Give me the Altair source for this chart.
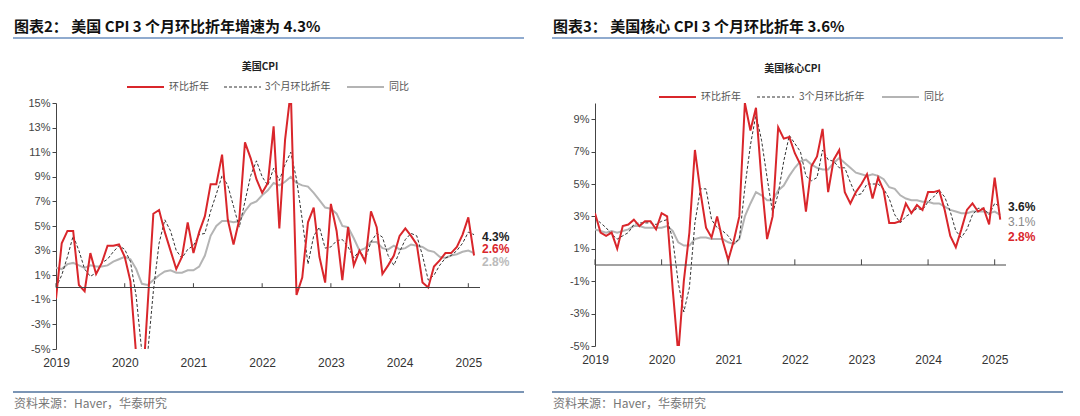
import pandas as pd
import altair as alt

# 2019-01 .. 2025-02, monthly, % annualized
cpi_mom = [-0.9, 3.6, 4.6, 4.6, 0.2, -0.3, 2.8, 1.1, 2.0, 3.4, 3.4, 3.5,
           2.5, 0.5, -5.5, -9.0, -1.5, 6.0, 6.3, 4.5, 3.0, 1.5, 2.5, 5.3,
           2.8, 4.5, 5.8, 8.4, 8.4, 10.8, 5.5, 3.5, 5.5, 11.8, 10.5, 8.8,
           7.7, 8.5, 13.1, 4.8, 12.0, 16.0, -0.6, 0.8, 5.3, 6.5, 2.5, 0.4,
           6.8, 4.6, 0.6, 4.9, 1.8, 3.0, 2.1, 6.2, 4.9, 1.1, 1.8, 2.6,
           4.2, 4.8, 4.2, 3.5, 0.4, 0.0, 1.7, 2.2, 2.8, 2.8, 3.3, 4.3,
           5.7, 2.6]
cpi_3m = [0.0, 1.0, 2.5, 4.2, 3.0, 1.5, 0.9, 1.2, 2.0, 2.3, 2.9, 3.4,
          3.1, 2.1, -0.7, -5.3, -5.4, -0.3, 3.6, 5.5, 4.6, 3.0, 2.4, 3.1,
          3.4, 4.3, 4.4, 6.2, 7.6, 9.1, 8.3, 6.6, 4.9, 7.0, 9.1, 10.3,
          9.0, 8.3, 9.7, 8.7, 10.0, 11.0, 8.8, 5.5, 1.9, 4.2, 4.9, 3.2,
          3.3, 3.8, 3.9, 3.3, 2.4, 3.0, 2.3, 3.7, 4.4, 4.1, 2.6, 1.8,
          2.9, 3.9, 4.4, 4.2, 2.6, 0.6, 1.0, 1.8, 2.4, 2.6, 3.0, 3.6,
          4.5, 4.3]
cpi_yoy = [1.6, 1.5, 1.9, 2.0, 1.8, 1.6, 1.8, 1.7, 1.7, 1.8, 2.1, 2.3,
           2.5, 2.3, 1.5, 0.3, 0.2, 0.6, 1.0, 1.3, 1.4, 1.2, 1.2, 1.4,
           1.4, 1.7, 2.6, 4.2, 5.0, 5.4, 5.4, 5.3, 5.4, 6.2, 6.8, 7.0,
           7.5, 7.9, 8.5, 8.3, 8.6, 9.0, 8.5, 8.3, 8.2, 7.7, 7.1, 6.5,
           6.4, 6.0, 5.0, 4.9, 4.0, 3.0, 3.2, 3.7, 3.7, 3.2, 3.1, 3.4,
           3.1, 3.2, 3.5, 3.4, 3.3, 3.0, 2.9, 2.5, 2.4, 2.6, 2.7, 2.9,
           3.0, 2.8]

core_mom = [3.2, 2.0, 1.8, 2.0, 1.0, 2.4, 2.5, 2.8, 2.4, 2.7, 2.7, 2.2,
            3.2, 3.0, -1.5, -5.5, -1.0, 2.0, 7.1, 4.5, 2.3, 1.7, 3.0, 1.5,
            0.3, 1.5, 3.0, 10.0, 8.3, 9.7, 5.2, 1.6, 3.0, 8.5, 7.8, 7.9,
            6.9, 6.2, 3.3, 6.1, 6.7, 8.4, 4.5, 6.5, 7.1, 4.5, 3.8, 4.5,
            5.0, 5.6, 4.1, 5.4, 4.6, 2.6, 2.6, 2.7, 3.8, 3.2, 3.7, 3.4,
            4.5, 4.5, 4.6, 3.4, 1.8, 1.1, 2.2, 3.4, 3.8, 3.3, 3.5, 2.5,
            5.4, 2.8]
core_3m = [2.9, 2.6, 2.3, 1.9, 1.6, 1.8, 2.0, 2.5, 2.6, 2.6, 2.6, 2.5,
           2.7, 2.8, 1.6, -1.1, -2.9, -1.4, 2.6, 4.7, 4.7, 2.8, 2.3, 2.1,
           1.8, 1.3, 1.6, 4.8, 7.4, 9.3, 7.7, 5.4, 3.2, 4.4, 6.4, 8.0,
           7.5, 7.0, 5.5, 5.2, 5.4, 7.1, 6.5, 6.4, 6.0, 6.0, 5.1, 4.3,
           4.4, 5.0, 5.0, 5.0, 4.7, 4.1, 3.1, 2.6, 3.0, 3.2, 3.5, 3.4,
           3.9, 4.2, 4.6, 4.2, 3.3, 2.1, 1.7, 2.2, 3.1, 3.5, 3.5, 3.1,
           3.8, 3.6]
core_yoy = [2.2, 2.1, 2.0, 2.1, 2.0, 2.1, 2.2, 2.4, 2.4, 2.3, 2.3, 2.3,
            2.3, 2.4, 2.1, 1.4, 1.2, 1.2, 1.6, 1.7, 1.7, 1.6, 1.6, 1.6,
            1.4, 1.3, 1.6, 3.0, 3.8, 4.5, 4.3, 4.0, 4.0, 4.6, 4.9, 5.5,
            6.0, 6.4, 6.5, 6.2, 6.0, 5.9, 5.9, 6.3, 6.6, 6.3, 6.0, 5.7,
            5.6, 5.5, 5.6, 5.5, 5.3, 4.8, 4.7, 4.3, 4.1, 4.0, 4.0, 3.9,
            3.9, 3.8, 3.8, 3.6, 3.4, 3.3, 3.2, 3.2, 3.3, 3.3, 3.3, 3.2,
            3.3, 3.1]

years = [2019, 2020, 2021, 2022, 2023, 2024, 2025]
series_names = ["环比折年", "3个月环比折年", "同比"]

RED = "#d9262b"
GRAY = "#b4b4b4"
BLUE = "#6b8fbf"
CJK = "Noto Sans CJK SC"
LAT = "Liberation Sans"


def panel(mom, yoy3m, yoy, header, title, ydom, yticks, w, h, leg_x, leg_y, title_y, ends):
    t = [2019 + i / 12 for i in range(len(mom))]
    df = pd.DataFrame({"t": t, "mom": mom, "m3": yoy3m, "yoy": yoy})
    xs = alt.Scale(domain=[2019, 2025.17], nice=False, zero=False)
    x_axis = alt.Axis(values=years, format="d", title=None, grid=False,
                      domain=False, ticks=False, labelFont=LAT, labelFlush=False,
                      labelFontSize=12, labelColor="#333", labelPadding=8)
    x = alt.X("t:Q", scale=xs, axis=x_axis)
    ys = alt.Scale(domain=ydom, nice=False)
    y_axis = alt.Axis(values=yticks, labelExpr="datum.value + '%'", title=None,
                      grid=False, domainColor="#444", tickColor="#444",
                      tickSize=4, labelFont=LAT, labelFontSize=11,
                      labelColor="#444", labelOverlap=False)
    base = alt.Chart(df).encode(x=x)
    yoy_l = base.mark_line(color=GRAY, strokeWidth=2, clip=True).encode(
        y=alt.Y("yoy:Q", scale=ys, axis=y_axis))
    m3_l = base.mark_line(color="#333", strokeWidth=1, strokeDash=[3, 2],
                          clip=True).encode(y=alt.Y("m3:Q", scale=ys, axis=y_axis))
    mom_l = base.mark_line(color=RED, strokeWidth=2, clip=True).encode(
        y=alt.Y("mom:Q", scale=ys, axis=y_axis))

    zero = alt.Chart(pd.DataFrame({"z": [0]})).mark_rule(
        color="#444", strokeWidth=1).encode(y=alt.Y("z:Q", scale=ys, axis=y_axis))
    tdf = pd.DataFrame({"t": years, "z": [0] * len(years), "z2": [0.35] * len(years)})
    ticks = alt.Chart(tdf).mark_rule(color="#444", strokeWidth=1).encode(
        x=alt.X("t:Q", scale=xs, axis=x_axis),
        y=alt.Y("z:Q", scale=ys, axis=y_axis), y2="z2:Q")

    # legend
    leg_layers = []
    for i, (col, dash, sw) in enumerate([(RED, [1, 0], 2), ("#333", [3, 2], 1),
                                          (GRAY, [1, 0], 2)]):
        x0 = float(leg_x[i])
        one = pd.DataFrame({"name": [series_names[i]]})
        leg_layers.append(alt.Chart(one).mark_rule(
            color=col, strokeDash=dash, strokeWidth=sw).encode(
            x=alt.value(x0), x2=alt.value(x0 + 37), y=alt.value(leg_y)))
        leg_layers.append(alt.Chart(one).mark_text(
            align="left", baseline="middle", font=CJK, fontSize=10,
            color="#555").encode(text="name:N", x=alt.value(float(leg_x[i + 3])),
                                 y=alt.value(leg_y)))

    ttl = alt.Chart(pd.DataFrame({"s": [title]})).mark_text(
        font=CJK, fontSize=10, fontWeight="bold", color="#222").encode(
        text="s:N", x=alt.value(w / 2 - 8), y=alt.value(title_y))
    hdr = alt.Chart(pd.DataFrame({"s": [header]})).mark_text(
        font=CJK, fontSize=15, fontWeight="bold", color="#111", align="left",
        baseline="alphabetic").encode(text="s:N", x=alt.value(-42), y=alt.value(-71))
    hline = alt.Chart(pd.DataFrame({"a": [0]})).mark_rule(
        color=BLUE, strokeWidth=1.5).encode(
        x=alt.value(-43), x2=alt.value(-43 + 511), y=alt.value(-65))
    fline = alt.Chart(pd.DataFrame({"a": [0]})).mark_rule(
        color="#7b95b5", strokeWidth=2).encode(
        x=alt.value(-43), x2=alt.value(-43 + 511), y=alt.value(289))
    src = alt.Chart(pd.DataFrame({"s": ["资料来源：Haver，华泰研究"]})).mark_text(
        font=CJK, fontSize=12, color="#777", align="left").encode(
        text="s:N", x=alt.value(-42), y=alt.value(301))

    end_layers = []
    for label, color, bold, ex, ey in ends:
        end_layers.append(alt.Chart(pd.DataFrame({"s": [label]})).mark_text(
            font=LAT, fontSize=12, fontWeight="bold" if bold else "normal",
            color=color, align="left").encode(
            text="s:N", x=alt.value(ex), y=alt.value(ey)))

    return alt.layer(yoy_l, m3_l, mom_l, zero, ticks, *leg_layers, ttl, hdr,
                     hline, fline, src, *end_layers).properties(width=w, height=h)


left = panel(cpi_mom, cpi_3m, cpi_yoy, "图表2：  美国 CPI 3 个月环比折年增速为 4.3%",
             "美国CPI", [-5, 15], list(range(-5, 16, 2)), 424, 246,
             [71, 168, 291, 113, 209, 333], -16, -36,
             [("4.3%", "#222", True, 426, 134), ("2.6%", RED, True, 426, 146),
              ("2.8%", "#bbb", True, 426, 159)])
right = panel(core_mom, core_3m, core_yoy, "图表3：  美国核心 CPI 3 个月环比折年 3.6%",
              "美国核心CPI", [-5, 10], list(range(-5, 10, 2)), 411, 243,
              [64, 162, 287, 106, 204, 329], -6, -34,
              [("3.6%", "#222", True, 413, 104), ("3.1%", "#888", False, 413, 119),
               ("2.8%", RED, True, 413, 134)])

chart = alt.hconcat(left, right, spacing=115).resolve_scale(x="independent", y="independent").properties(
    bounds="flush", padding={"left": 4, "top": 12, "right": 0, "bottom": 0}
).configure_view(stroke=None)

chart.save("out.html", embed_options={"renderer": "svg", "actions": False})
